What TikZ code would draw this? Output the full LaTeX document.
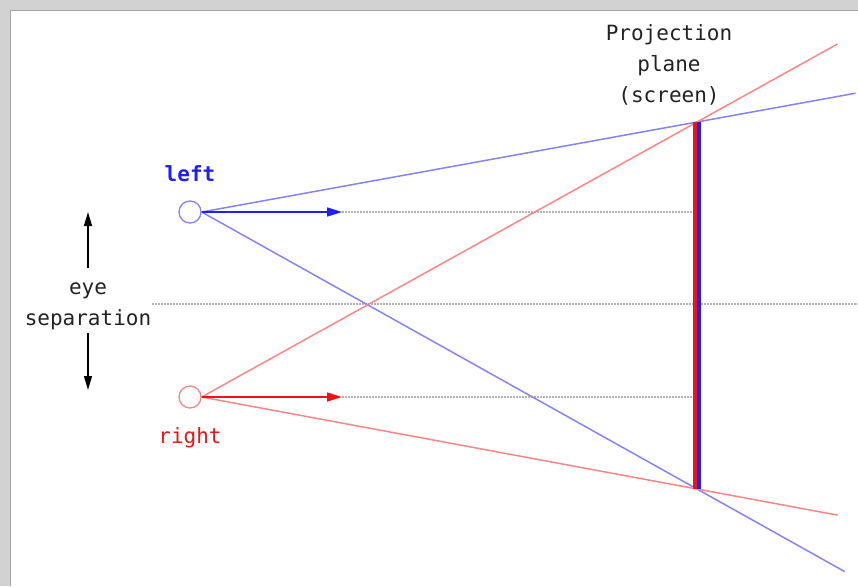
\documentclass[tikz,border=0pt]{standalone}
\usepackage{fontspec}
\setmonofont{DejaVu Sans Mono}
\usepackage{xcolor}
\definecolor{stblue}{HTML}{8383FF}
\definecolor{stred}{HTML}{FF8585}
\definecolor{stdblue}{HTML}{1E1EFF}
\definecolor{stdred}{HTML}{EE1414}
\definecolor{stgray}{HTML}{D2D2D2}
\definecolor{stedge}{HTML}{A6A6A6}
\definecolor{sttext}{HTML}{222222}
\usepackage{tikz}
\usetikzlibrary{arrows.meta, positioning, calc}

\begin{document}
\begin{tikzpicture}[
  x=1pt, y=-1pt,
  eye/.style={circle, draw=#1, line width=1.3pt,
    minimum size=22pt, inner sep=0pt},
  ray/.style={line width=1.5pt, color=#1},
  gaze/.style={-{Triangle[length=15pt, width=9pt]},
    line width=1.6pt, color=#1},
  guide/.style={line width=1.4pt, color=black!30,
    dash pattern=on 1.5pt off 1.5pt},
  screen/.style={line width=4pt, color=#1},
  lbl/.style={font=\ttfamily\fontsize{21}{31}\selectfont,
    text=sttext, align=center, inner sep=0pt},
  sepArr/.style={-{Triangle[length=14pt, width=8pt]},
    line width=1.2pt, color=black}
]
  \useasboundingbox (0,0) rectangle (858,586);
  \fill[stgray] (0,0) rectangle (858,11);
  \fill[stgray] (0,0) rectangle (11,586);
  \draw[stedge, line width=1.5pt] (10.5,586) -- (10.5,10.5) -- (858,10.5);

  \node[eye=stblue] (left) at (190,212) {};
  \node[eye=stred] (right) at (190,397) {};
  \coordinate (top) at (697,122);
  \coordinate (bot) at (697,489);
  \coordinate (lgaze) at (342,212);
  \coordinate (rgaze) at (342,397);
  \coordinate (lend) at (697,212);
  \coordinate (rend) at (697,397);
  \coordinate (mida) at (152,304);
  \coordinate (midb) at (858,304);

  \node[lbl, font=\ttfamily\bfseries\fontsize{21}{31}\selectfont,
    text=stdblue, above=18pt of left] (leftlbl) {left};
  \node[lbl, text=stdred, below=19pt of right] (rightlbl) {right};
  \node[lbl] (plane) at (669,65) {Projection\\plane\\(screen)};
  \node[lbl] (sep) at (88,306) {eye\\separation};
  \coordinate (sepup) at (88,268);
  \coordinate (septop) at (88,212);
  \coordinate (sepdown) at (88,333);
  \coordinate (sepbot) at (88,390);

  \draw[guide] (lgaze) -- (lend);
  \draw[guide] (rgaze) -- (rend);
  \draw[guide] (mida) -- (midb);

  \draw[ray=stblue] (left.east) -- ($(left.east)!1.32!(top)$);
  \draw[ray=stblue] (left.east) -- ($(left.east)!1.298!(bot)$);
  \draw[ray=stred] (right.east) -- ($(right.east)!1.284!(top)$);
  \draw[ray=stred] (right.east) -- ($(right.east)!1.284!(bot)$);

  \draw[screen=stdred] ([xshift=-2pt]top) -- ([xshift=-2pt]bot);
  \draw[screen=stdblue] ([xshift=2pt]top) -- ([xshift=2pt]bot);

  \draw[gaze=stdblue] (left.east) -- (lgaze);
  \draw[gaze=stdred] (right.east) -- (rgaze);

  \draw[sepArr] (sepup) -- (septop);
  \draw[sepArr] (sepdown) -- (sepbot);
\end{tikzpicture}
\end{document}
